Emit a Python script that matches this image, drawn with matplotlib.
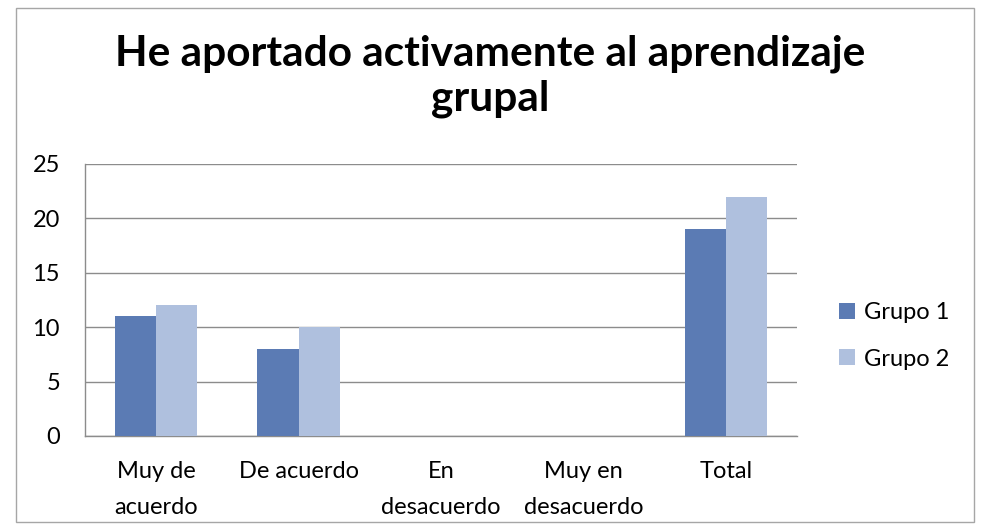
import matplotlib.pyplot as plt
import numpy as np
from matplotlib.patches import Rectangle

categorias = ["Muy de\nacuerdo", "De acuerdo", "En\ndesacuerdo", "Muy en\ndesacuerdo", "Total"]
grupo_1 = [11, 8, 0, 0, 19]
grupo_2 = [12, 10, 0, 0, 22]
series = ["Grupo 1", "Grupo 2"]
titulo = "He aportado activamente al aprendizaje\ngrupal"

color_1 = "#5B7BB4"
color_2 = "#AFC0DE"
color_grid = "#8C8C8C"

plt.rcParams['font.family'] = ['Lato', 'DejaVu Sans']

fig = plt.figure(figsize=(9.82, 5.32), dpi=100)
W, H = 982, 532
ax = fig.add_axes([85 / W, 1 - 436 / H, (797 - 85) / W, (436 - 164) / H])

x = np.arange(len(categorias))
ancho = 0.29
ax.bar(x - ancho / 2, grupo_1, ancho, color=color_1, label=series[0], zorder=3)
ax.bar(x + ancho / 2, grupo_2, ancho, color=color_2, label=series[1], zorder=3)

ax.set_xlim(-0.5, len(categorias) - 0.5)
ax.set_ylim(0, 25)
ax.set_yticks(range(0, 26, 5))
ax.set_xticks(x)
ax.set_xticklabels(categorias, fontsize=17, linespacing=1.9)
ax.tick_params(axis='y', labelsize=17, length=0, pad=18)
ax.tick_params(axis='x', length=0, pad=18)
ax.yaxis.grid(True, color=color_grid, linewidth=1, zorder=0)
ax.set_axisbelow(True)

for lado in ['top', 'right']:
    ax.spines[lado].set_visible(False)
for lado in ['left', 'bottom']:
    ax.spines[lado].set_color(color_grid)
    ax.spines[lado].set_linewidth(1)

fig.text(490 / W, 1 - 76 / H, titulo, ha='center', va='center',
         fontsize=30.5, fontweight='bold', linespacing=1.2)

fig.legend(loc='center left', bbox_to_anchor=(818 / W, 1 - 336 / H), frameon=False,
           fontsize=17, handlelength=0.65, handleheight=0.65, handletextpad=0.4,
           labelspacing=1.06)

# borde exterior del grafico
fig.patches.append(Rectangle((16 / W, 1 - 522 / H), (974 - 16) / W, (522 - 8) / H,
                             transform=fig.transFigure, fill=False,
                             edgecolor='#A6A6A6', linewidth=1))

fig.savefig("out.png", dpi=100)
